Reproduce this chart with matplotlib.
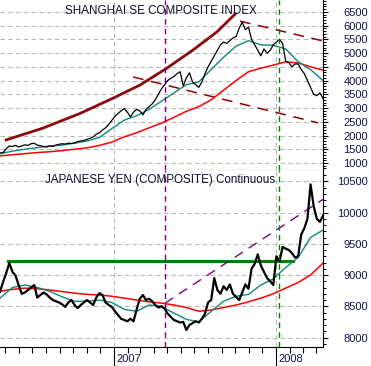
import numpy as np
import pandas as pd
import matplotlib
matplotlib.use('Agg')
import matplotlib.pyplot as plt
import matplotlib.dates as mdates
from matplotlib.ticker import MultipleLocator
from matplotlib.transforms import ScaledTranslation

plt.rcParams['font.family'] = ['Liberation Sans', 'DejaVu Sans']

# weekly closes, 2006-04-19 .. 2008-04-16
weeks = pd.date_range('2006-04-19', periods=105, freq='7D')

shanghai = [1360, 1380, 1520, 1620, 1600, 1640, 1580, 1620, 1660, 1640,
            1700, 1720, 1650, 1630, 1600, 1580, 1620, 1600, 1650, 1680,
            1700, 1690, 1720, 1710, 1730, 1780, 1800, 1820, 1860, 1900,
            1950, 2050, 2100, 2200, 2280, 2400, 2550, 2700, 2800, 2900,
            2980, 2850, 2680, 2850, 2950, 2900, 2750, 2950, 3050, 3150,
            3300, 3500, 3700, 3850, 4000, 4080, 4150, 4250, 4320, 3800,
            4100, 4280, 3950, 3850, 3750, 3950, 4250, 4500, 4700, 4900,
            5100, 5300, 5400, 5350, 5450, 5550, 5600, 5900, 6120, 5850,
            5950, 5500, 5300, 5100, 4900, 5150, 5000, 5100, 5300, 5400,
            5500, 5350, 4700, 4650, 4500, 4600, 4600, 4400, 4250, 4000,
            3750, 3500, 3450, 3550, 3350]

yen = [8730, 8890, 9030, 9190, 9050, 8990, 8840, 8700, 8720, 8760,
       8800, 8840, 8640, 8680, 8720, 8690, 8640, 8600, 8580, 8560,
       8530, 8490, 8560, 8600, 8520, 8470, 8520, 8560, 8600, 8560,
       8520, 8640, 8710, 8680, 8560, 8520, 8490, 8420, 8360, 8300,
       8280, 8260, 8300, 8260, 8450, 8620, 8680, 8600, 8620, 8580,
       8520, 8480, 8500, 8460, 8380, 8330, 8280, 8260, 8240, 8250,
       8120, 8200, 8230, 8260, 8240, 8300, 8380, 8560, 8600, 8950,
       8760, 8700, 8820, 8760, 8850, 8700, 8650, 8600, 8720, 8850,
       8780, 9100, 9180, 9330, 9150, 9050, 8950, 8900, 8840, 9300,
       9220, 9450, 9420, 9400, 9350, 9280, 9300, 9650, 9750, 9900,
       10450, 10100, 9900, 9850, 9950]

# moving averages read every 4 weeks
ma_dates = weeks[::4]
sh_ma_short = [1340, 1430, 1500, 1560, 1620, 1650, 1720, 1800, 1930, 2250,
               2560, 2720, 2950, 3250, 3550, 3850, 3950, 4400, 4850, 5250,
               5450, 5300, 5280, 5150, 4680, 4400, 4000]
sh_ma_long = [1260, 1300, 1340, 1380, 1410, 1450, 1500, 1550, 1640, 1760,
              1950, 2100, 2280, 2450, 2660, 2880, 3050, 3300, 3650, 4000,
              4320, 4450, 4560, 4680, 4640, 4500, 4380]
yen_ma_short = [8630, 8800, 8840, 8800, 8740, 8650, 8580, 8580, 8600, 8560,
                8450, 8420, 8520, 8500, 8390, 8290, 8250, 8420, 8580, 8660,
                8690, 8840, 8940, 9120, 9280, 9600, 9720]
yen_ma_long = [8740, 8770, 8790, 8780, 8760, 8735, 8710, 8690, 8680, 8660,
               8630, 8600, 8570, 8550, 8520, 8480, 8420, 8440, 8480, 8520,
               8570, 8630, 8700, 8790, 8880, 9000, 9190]

# hand-drawn annotations
curve_dates = pd.to_datetime(['2006-05-03', '2006-07-25', '2006-10-16', '2006-12-30',
                              '2007-03-01', '2007-04-30', '2007-06-28', '2007-08-21',
                              '2007-10-01'])
curve_vals = [1840, 2270, 2800, 3360, 3840, 4450, 5110, 5770, 6420]
top_trend_dates = pd.to_datetime(['2007-10-12', '2008-04-16'])
top_trend_vals = [6160, 5440]
low_trend_dates = pd.to_datetime(['2007-02-13', '2008-04-05'])
low_trend_vals = [4130, 2460]
yen_trend_dates = pd.to_datetime(['2007-04-26', '2008-04-16'])
yen_trend_vals = [8550, 10210]
yen_level_dates = pd.to_datetime(['2006-05-07', '2008-02-08'])
yen_level = 9224
marker_dates = pd.to_datetime(['2007-04-27', '2008-01-08'])

navy = '#14144a'
grid_kw = dict(color='#b8b8b8', linestyle=(0, (4, 3)), linewidth=0.8)

fig = plt.figure(figsize=(3.71, 3.66), dpi=100)
ax1 = fig.add_axes([0, 0.5355, 0.8706, 0.4645])
ax2 = fig.add_axes([0, 0.0519, 0.8706, 0.4836], sharex=ax1)

# top panel
for y in range(1000, 7000, 500):
    ax1.axhline(y, zorder=0, **grid_kw)
ax1.plot(curve_dates, curve_vals, color='#8b0a0a', lw=2.0)
ax1.plot(top_trend_dates, top_trend_vals, color='#960000', lw=1.1, dashes=(7, 5))
ax1.plot(low_trend_dates, low_trend_vals, color='#960000', lw=1.1, dashes=(7, 5))
ax1.plot(ma_dates, sh_ma_long, color='#ff0000', lw=1.1)
ax1.plot(ma_dates, sh_ma_short, color='#108878', lw=1.0)
ax1.plot(weeks, shanghai, color='black', lw=0.9)
ax1.set_ylim(745, 6930)
ax1.text(0.498, 0.935, 'SHANGHAI SE COMPOSITE INDEX', transform=ax1.transAxes,
         ha='center', va='center', fontsize=8.4, color='#101030')

# bottom panel
for y in range(8000, 10600, 500):
    ax2.axhline(y, zorder=0, **grid_kw)
ax2.plot(yen_level_dates, [yen_level, yen_level], color='#008000', lw=2.2)
ax2.plot(yen_trend_dates, yen_trend_vals, color='#800080', lw=1.0, dashes=(7, 5))
ax2.plot(ma_dates, yen_ma_long, color='#ff0000', lw=1.1)
ax2.plot(ma_dates, yen_ma_short, color='#108878', lw=1.0)
ax2.plot(weeks, yen, color='black', lw=1.6)
ax2.set_ylim(7848, 10680)
ax2.text(0.495, 0.944, 'JAPANESE YEN (COMPOSITE) Continuous', transform=ax2.transAxes,
         ha='center', va='center', fontsize=8.4, color='#101030')

# vertical markers and year grid
for ax in (ax1, ax2):
    for yr in pd.to_datetime(['2007-01-01', '2008-01-01']):
        ax.axvline(yr, zorder=0, **grid_kw)
    ax.axvline(marker_dates[0], color='#800080', lw=1.0, dashes=(4, 3))
    ax.axvline(marker_dates[1], color='#008000', lw=1.0, dashes=(4, 3))
    ax.spines['left'].set_visible(False)
    ax.spines['top'].set_visible(False)
    ax.yaxis.tick_right()
    ax.yaxis.set_major_locator(MultipleLocator(500))
    ax.yaxis.set_minor_locator(MultipleLocator(100))
    ax.tick_params(axis='y', which='major', length=3.5, width=0.8, pad=29,
                   labelsize=8, labelcolor=navy)
    ax.tick_params(axis='y', which='minor', length=2, width=0.7)
    for lbl in ax.get_yticklabels():
        lbl.set_horizontalalignment('right')

ax1.set_xlim(pd.Timestamp('2006-04-19'), pd.Timestamp('2008-04-16'))
ax2.xaxis.set_major_locator(mdates.YearLocator())
ax2.xaxis.set_major_formatter(mdates.DateFormatter('%Y'))
ax2.xaxis.set_minor_locator(mdates.MonthLocator())
ax2.tick_params(axis='x', which='major', length=14, width=0.8, pad=-9,
                labelsize=8, labelcolor=navy)
ax2.tick_params(axis='x', which='minor', length=4, width=0.8)
ax1.tick_params(axis='x', which='both', bottom=False, labelbottom=False)
shift = ScaledTranslation(2 / 72, 0, fig.dpi_scale_trans)
for lbl in ax2.get_xticklabels():
    lbl.set_horizontalalignment('left')
    lbl.set_transform(lbl.get_transform() + shift)

fig.savefig('out.png', dpi=100)
